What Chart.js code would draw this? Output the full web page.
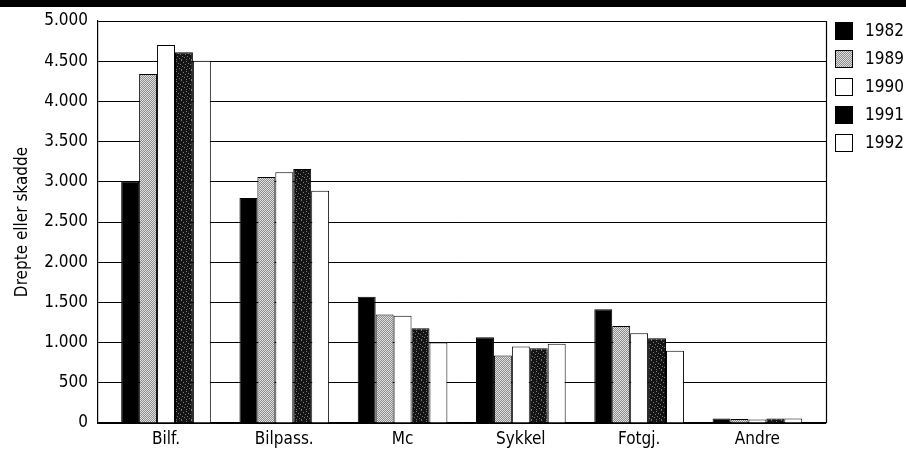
<!DOCTYPE html>
<html>
<head>
<meta charset="utf-8">
<style>
html,body{margin:0;padding:0;background:#fff;}
#wrap{position:relative;width:906px;height:453px;}
</style>
<script src="https://cdn.jsdelivr.net/npm/chart.js@4.4.1/dist/chart.umd.min.js"></script>
</head>
<body>
<div id="wrap"><canvas id="c" width="906" height="453"></canvas></div>
<script>
const categories = ['Bilf.', 'Bilpass.', 'Mc', 'Sykkel', 'Fotgj.', 'Andre'];
const seriesNames = ['1982', '1989', '1990', '1991', '1992'];
const v1982 = [3000, 2800, 1570, 1065, 1415, 55];
const v1989 = [4340, 3060, 1350, 840, 1205, 50];
const v1990 = [4700, 3120, 1335, 950, 1115, 45];
const v1991 = [4610, 3160, 1180, 930, 1055, 55];
const v1992 = [4505, 2890, 1000, 985, 900, 55];
const yTicks = [0, 500, 1000, 1500, 2000, 2500, 3000, 3500, 4000, 4500, 5000];

const FONT = "'Liberation Sans Narrow', 'Arial Narrow', 'DejaVu Sans Condensed', sans-serif";

function makePattern(bg, fg, cells, size) {
  const p = document.createElement('canvas');
  p.width = size; p.height = size;
  const g = p.getContext('2d');
  g.fillStyle = bg; g.fillRect(0, 0, size, size);
  g.fillStyle = fg;
  cells.forEach(([x, y]) => g.fillRect(x, y, 1, 1));
  return document.getElementById('c').getContext('2d').createPattern(p, 'repeat');
}
const grayPat = makePattern('#8c8c8c', '#e0e0e0', [[0,0],[2,0],[1,1],[3,1],[0,2],[2,2],[1,3],[3,3]], 4);
const darkPat = makePattern('#141414', '#7a7a7a',
  [[1,0],[6,1],[3,2],[0,4],[5,4],[2,6],[7,6],[4,7],[8,3],[9,8],[6,9],[1,9]], 10);

const fills = ['#000000', grayPat, '#ffffff', darkPat, '#ffffff'];
const legendFills = ['#000000', grayPat, '#ffffff', '#000000', '#ffffff'];
const values = [v1982, v1989, v1990, v1991, v1992];

const frame = {
  id: 'frame',
  beforeDraw(chart) {
    const ctx = chart.ctx;
    ctx.save();
    ctx.fillStyle = '#000';
    ctx.fillRect(0, 0, chart.width, 7);
    ctx.restore();
  },
  afterDraw(chart) {
    const ctx = chart.ctx, a = chart.chartArea;
    ctx.save();
    ctx.strokeStyle = '#000';
    ctx.lineWidth = 1.2;
    ctx.beginPath();
    ctx.moveTo(a.right + 0.5, a.top);
    ctx.lineTo(a.right + 0.5, a.bottom);
    ctx.stroke();
    // legend
    ctx.font = '17px ' + FONT;
    ctx.textBaseline = 'middle';
    ctx.textAlign = 'left';
    chart.data.datasets.forEach((ds, i) => {
      const bx = a.right + 9, by = a.top + 1 + i * 28;
      ctx.fillStyle = legendFills[i];
      ctx.fillRect(bx, by, 18, 18);
      ctx.strokeStyle = '#000';
      ctx.lineWidth = 1;
      ctx.strokeRect(bx + 0.5, by + 0.5, 17, 17);
      ctx.fillStyle = '#000';
      ctx.fillText(ds.label, a.right + 39, by + 10);
    });
    ctx.restore();
  }
};

new Chart(document.getElementById('c'), {
  type: 'bar',
  data: {
    datasets: seriesNames.map((n, i) => ({
      label: n,
      data: values[i].map((v, j) => ({ x: j, y: v })),
      backgroundColor: fills[i],
      borderColor: '#000',
      borderWidth: 1,
      borderSkipped: 'start',
      barPercentage: 1.0,
      categoryPercentage: 0.758
    }))
  },
  options: {
    responsive: false,
    animation: false,
    devicePixelRatio: 1,
    layout: { padding: { top: 21, right: 80, bottom: 0, left: 0 } },
    plugins: { legend: { display: false }, tooltip: { enabled: false } },
    scales: {
      x: {
        type: 'linear',
        offset: false,
        min: -0.575, max: 5.58,
        afterBuildTicks(s) { s.ticks = categories.map((c, i) => ({ value: i })); },
        grid: { display: false, drawTicks: false },
        border: { display: true, color: '#000', width: 1.2 },
        ticks: { color: '#000', font: { family: FONT, size: 17 }, padding: 6, autoSkip: false, maxRotation: 0,
          callback: v => categories[v] },
        afterFit(s) { s.height = 30; }
      },
      y: {
        min: 0, max: 5000,
        afterBuildTicks(s) { s.ticks = yTicks.map(v => ({ value: v })); },
        grid: { color: '#000', lineWidth: 1, drawTicks: false },
        border: { display: true, color: '#000', width: 1.2 },
        ticks: {
          color: '#000', font: { family: FONT, size: 17 }, padding: 10,
          callback: v => v.toLocaleString('de-DE')
        },
        title: { display: true, text: 'Drepte eller skadde', color: '#000', font: { family: FONT, size: 17 }, padding: { top: 12, bottom: 0 } },
        afterFit(s) { s.width = 98; }
      }
    }
  },
  plugins: [frame]
});
</script>
</body>
</html>
